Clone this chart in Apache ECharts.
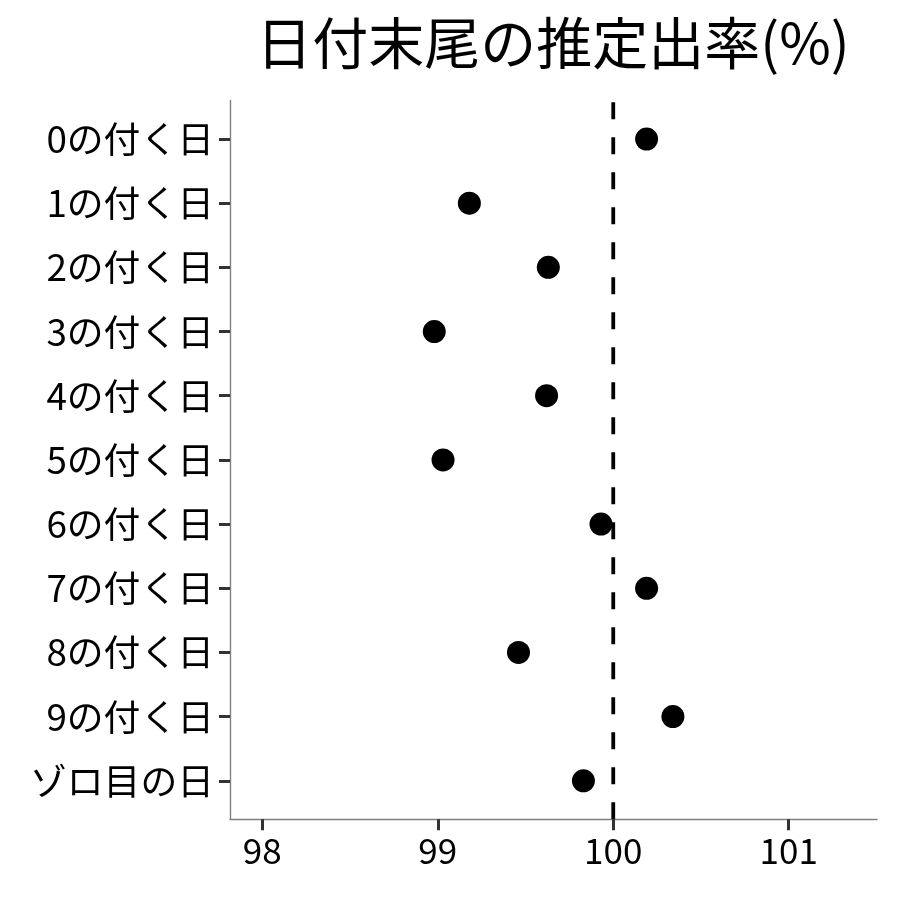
<!DOCTYPE html>
<html>
<head>
<meta charset="utf-8">
<script src="https://cdn.jsdelivr.net/npm/echarts@6/dist/echarts.min.js"></script>
<style>html,body{margin:0;padding:0;background:#fff;}#c{width:900px;height:900px;}</style>
</head>
<body>
<div id="c"></div>
<script>
const categories = ['0の付く日','1の付く日','2の付く日','3の付く日','4の付く日','5の付く日','6の付く日','7の付く日','8の付く日','9の付く日','ゾロ目の日'];
const rates = [100.19, 99.18, 99.63, 98.98, 99.62, 99.03, 99.93, 100.19, 99.46, 100.34, 99.83];
const xTicks = [98, 99, 100, 101];
const referenceValue = 100;
const titleText = '日付末尾の推定出率(%)';

const FONT = '"Noto Sans CJK JP", "Noto Sans", sans-serif';
const yMin = -0.6, yMax = categories.length - 1 + 0.6;

const chart = echarts.init(document.getElementById('c'), null, {renderer: 'canvas'});
chart.setOption({
  animation: false,
  backgroundColor: '#ffffff',
  title: {
    text: titleText,
    left: 548, top: 10, textAlign: 'center',
    textStyle: {fontFamily: FONT, fontSize: 56, fontWeight: 'normal', color: '#000'}
  },
  grid: {left: 230, right: 23, top: 100.5, bottom: 80.7, containLabel: false},
  xAxis: {
    type: 'value', min: 97.816, max: 101.503,
    splitLine: {show: false},
    axisLine: {show: true, onZero: false, lineStyle: {color: '#808080', width: 1.4}},
    axisTick: {show: true, length: 11, customValues: xTicks, lineStyle: {color: '#333333', width: 3}},
    axisLabel: {customValues: xTicks, margin: 14, fontFamily: FONT, fontSize: 35, color: '#000'}
  },
  yAxis: {
    type: 'value', inverse: true, min: yMin, max: yMax,
    splitLine: {show: false},
    axisLine: {show: true, onZero: false, lineStyle: {color: '#808080', width: 1.4}},
    axisTick: {show: true, length: 11, customValues: categories.map((c, i) => i), lineStyle: {color: '#333333', width: 3}},
    axisLabel: {
      customValues: categories.map((c, i) => i), margin: 16,
      fontFamily: FONT, fontSize: 36.8, color: '#000',
      formatter: v => categories[Math.round(v)]
    }
  },
  series: [
    {
      type: 'line',
      data: [[referenceValue, yMax], [referenceValue, yMin]],
      symbol: 'none',
      lineStyle: {color: '#000', width: 3.8, type: [17, 18]},
      z: 1
    },
    {
      type: 'scatter',
      data: rates.map((v, i) => [v, i]),
      symbol: 'circle', symbolSize: 23,
      itemStyle: {color: '#000', opacity: 1},
      z: 2
    }
  ]
});
</script>
</body>
</html>
